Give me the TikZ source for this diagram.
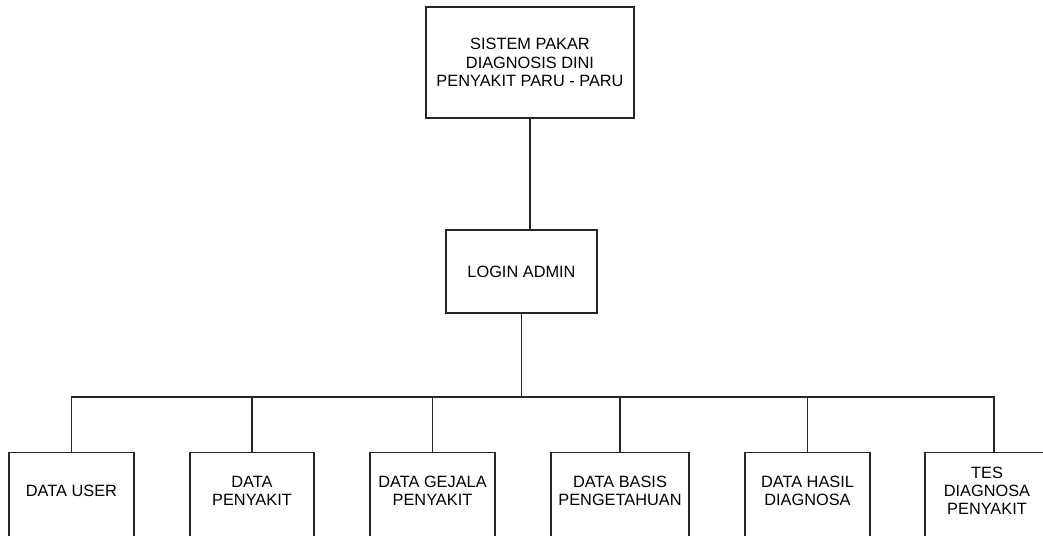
\documentclass[tikz,border=0pt]{standalone}
\usepackage{fontspec}
\setmainfont{Liberation Sans}

\begin{document}
\begin{tikzpicture}[line width=0.8pt, draw=black!85,
  box/.style={draw=black!85, align=center, inner sep=0pt, font=\fontsize{9.3}{10.4}\selectfont},
  leaf/.style={box, anchor=north, minimum height=2cm}]
\useasboundingbox (0,0) rectangle (20.86,10.70);
\clip (0,0) rectangle (20.86,10.70);
\node[box, minimum width=4.16cm, minimum height=2.22cm] (sistem) at (10.60,9.45) {SISTEM PAKAR\\DIAGNOSIS DINI\\PENYAKIT PARU - PARU};
\node[box, minimum width=3.02cm, minimum height=1.66cm] (login) at (10.43,5.27) {LOGIN ADMIN};
\coordinate (bus) at (10.43,2.76);
\draw (sistem.south) -- (sistem.south |- login.north);
\draw (login.south) -- (bus);
\foreach \n/\x/\w/\c/\t in {user/1.43/2.50/0/{DATA USER}, penyakit/5.04/2.48/0/{DATA\\PENYAKIT}, gejala/8.65/2.50/0/{DATA GEJALA\\PENYAKIT}, basis/12.40/2.76/0/{DATA BASIS\\PENGETAHUAN}, hasil/16.15/2.50/0/{DATA HASIL\\DIAGNOSA}, tes/19.74/2.48/0.14/{TES\\DIAGNOSA\\PENYAKIT}} {
  \node[leaf, minimum width=\w cm, label={[box, draw=none, anchor=center, yshift=-0.78cm]north:{\t}}] (\n) at (\x,1.66) {};
  \draw ([xshift=\c cm]\n.north) |- (bus);
};
\end{tikzpicture}
\end{document}
